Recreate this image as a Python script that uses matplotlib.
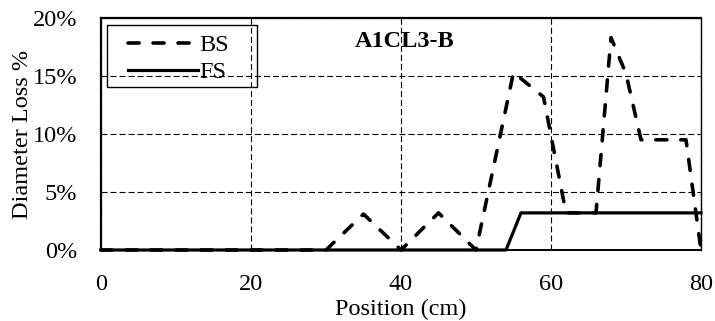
import numpy as np
import matplotlib
matplotlib.use('Agg')
from matplotlib import pyplot as plt
from matplotlib.patches import Rectangle
from matplotlib.ticker import PercentFormatter

# diameter loss along the bar (cm, %)
bs_pos = [0, 30, 35, 40, 45, 50, 55, 59, 62, 66, 68, 70, 72, 78, 80]
bs_loss = [0, 0, 3.1, 0, 3.2, 0, 15.3, 13.2, 3.2, 3.2, 18.3, 15.2, 9.5, 9.5, 0]
fs_pos = [0, 54, 56, 80]
fs_loss = [0, 0, 3.2, 3.2]

x_ticks = [0, 20, 40, 60, 80]
y_ticks = [0, 5, 10, 15, 20]
title = 'A1CL3-B'

plt.rcParams['font.family'] = ['Liberation Serif', 'DejaVu Serif']
plt.rcParams['font.size'] = 17.5
plt.rcParams['lines.scale_dashes'] = False

fig = plt.figure(figsize=(7.15, 3.21), dpi=100)
ax = fig.add_axes([101/715., 1 - 250/321., 600/715., 232/321.])

ax.plot(bs_pos, bs_loss, color='black', lw=2.6, linestyle=(0, (8, 10)),
        dash_capstyle='round', label='BS', clip_on=False, zorder=3)
ax.plot(fs_pos, fs_loss, color='black', lw=2.3, label='FS', clip_on=False, zorder=4)

ax.set_xlim(0, 80)
ax.set_ylim(0, 20)
ax.set_xticks(x_ticks)
ax.set_yticks(y_ticks)
ax.yaxis.set_major_formatter(PercentFormatter(xmax=100, decimals=0))
ax.tick_params(length=0, pad=17)

ax.grid(True, color='black', lw=0.8, linestyle=(0, (4.3, 2.2)))
ax.set_axisbelow(True)
for side, w in [('left', 1.6), ('bottom', 1.4), ('top', 1.6), ('right', 1.0)]:
    ax.spines[side].set_linewidth(w)
    ax.spines[side].set_color('black')

ax.set_xlabel('Position (cm)', labelpad=3)
ax.set_ylabel('Diameter Loss %')
ax.yaxis.set_label_coords(-0.113, 0.5)

ax.text(0.423, 0.897, title, transform=ax.transAxes, fontweight='bold',
        va='center', ha='left', zorder=5)

# legend box drawn by hand, wider than its content like the original,
# left unfilled so the grid shows through
ax.add_patch(Rectangle((0.01, 0.703), 0.25, 0.267, transform=ax.transAxes,
                       facecolor='none', edgecolor='black', lw=1.0, zorder=6))
leg = ax.legend(loc='upper left', bbox_to_anchor=(0.045, 0.93),
                borderaxespad=0, handlelength=2.9, handletextpad=0.05,
                borderpad=0.0, labelspacing=0.2, frameon=False)
leg.set_zorder(7)

fig.savefig('out.png', dpi=100)
